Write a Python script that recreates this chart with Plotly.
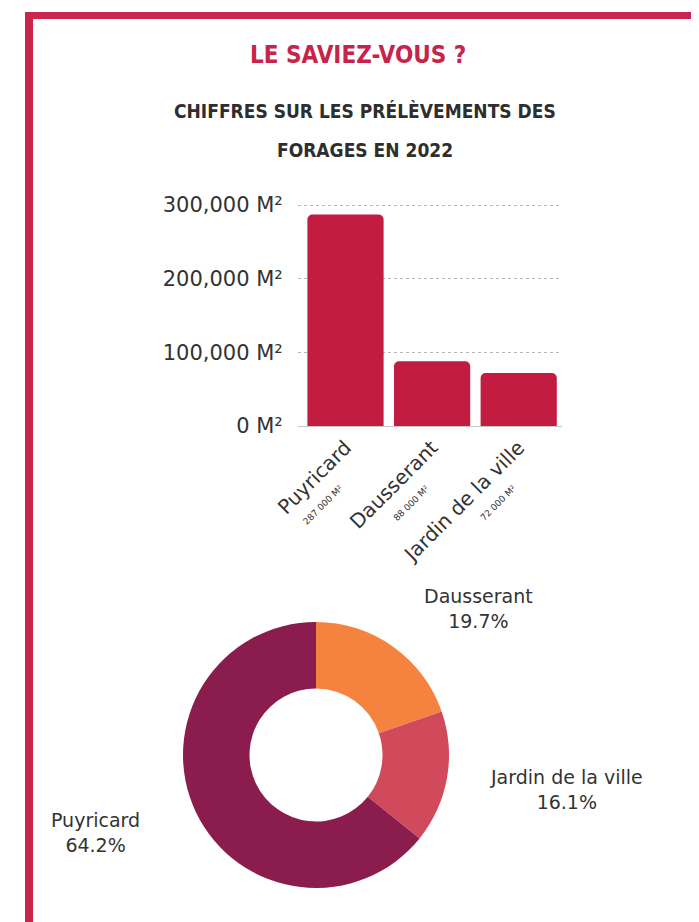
import plotly.graph_objects as go

# ---- data ----
sites = ["Puyricard", "Dausserant", "Jardin de la ville"]
volumes = [287000, 88000, 72000]
volume_labels = ["287 000 M²", "88 000 M²", "72 000 M²"]
y_tick_vals = [0, 100000, 200000, 300000]
y_tick_text = ["0 M²", "100,000 M²", "200,000 M²", "300,000 M²"]

pie_sites = ["Dausserant", "Jardin de la ville", "Puyricard"]
pie_values = [88000, 72000, 287000]
pie_colors = ["#f5833f", "#d14a5c", "#8a1c4e"]

W, H = 699, 922
OFF = 8  # page body margin
def px(x):
    return (x - OFF) / W
def py(y):
    return (H - (y - OFF)) / H

fig = go.Figure()

fig.add_trace(go.Bar(
    x=sites, y=volumes,
    marker=dict(color="#c21d40", cornerradius=5, line=dict(width=0)),
    xaxis="x", yaxis="y", showlegend=False, hoverinfo="skip",
))

fig.add_trace(go.Pie(
    labels=pie_sites, values=pie_values, sort=False, direction="clockwise",
    rotation=0, hole=0.5, textinfo="none", showlegend=False,
    marker=dict(colors=pie_colors, line=dict(width=0)),
    domain=dict(x=[px(316 - 133), px(316 + 133)], y=[py(888), py(622)]),
))

ymax = 304000
fig.update_layout(
    width=W, height=H,
    margin=dict(l=0, r=0, t=0, b=0, autoexpand=False),
    paper_bgcolor="white", plot_bgcolor="white",
    font=dict(family="DejaVu Sans, sans-serif", color="#333333"),
    bargap=0.12,
    xaxis=dict(
        domain=[px(298), px(562)], anchor="y", automargin=False,
        tickmode="array", tickvals=sites, ticktext=sites,
        tickangle=-45, tickfont=dict(size=20, color="#333333", family="DejaVu Sans, sans-serif"),
        ticklabelstandoff=5,
        showgrid=False, showline=False, ticks="", zeroline=False,
    ),
    yaxis=dict(
        domain=[py(426), py(426 - 221 * ymax / 300000)], anchor="x", automargin=False,
        range=[0, ymax],
        tickmode="array", tickvals=y_tick_vals, ticktext=y_tick_text,
        tickfont=dict(size=21, color="#333333", family="DejaVu Sans, sans-serif"),
        showgrid=True, gridcolor="#b8b8b8", griddash="dot", gridwidth=1,
        zeroline=True, zerolinecolor="#c8c8c8", zerolinewidth=1,
        ticks="outside", ticklen=10, tickcolor="rgba(0,0,0,0)",
        showline=False,
    ),
)

# small volume labels under each category name
for s, v in zip(sites, volume_labels):
    fig.add_annotation(text=v, xref="x", yref="paper", x=s, y=py(480),
                       xshift=2, showarrow=False, textangle=-45,
                       xanchor="right", yanchor="top",
                       font=dict(family="DejaVu Sans, sans-serif", size=9, color="#333333"))

# frame (left and top edges)
frame_color = "#c9264d"
fig.add_shape(type="line", xref="paper", yref="paper",
              x0=px(29), x1=px(29), y0=0, y1=py(12),
              line=dict(color=frame_color, width=8), layer="above")
fig.add_shape(type="line", xref="paper", yref="paper",
              x0=px(25), x1=1, y0=py(15.5), y1=py(15.5),
              line=dict(color=frame_color, width=7), layer="above")

title_font = "DejaVu Sans Condensed, DejaVu Sans, sans-serif"
fig.add_annotation(text="<b>LE SAVIEZ-VOUS ?</b>", xref="paper", yref="paper",
                   x=px(358), y=py(55), showarrow=False, xanchor="center", yanchor="middle",
                   font=dict(family=title_font, size=24, color="#c8234a"))
fig.add_annotation(text="<b>CHIFFRES SUR LES PRÉLÈVEMENTS DES</b>", xref="paper", yref="paper",
                   x=px(365), y=py(111), showarrow=False, xanchor="center", yanchor="middle",
                   font=dict(family=title_font, size=19, color="#2e2e2e"))
fig.add_annotation(text="<b>FORAGES EN 2022</b>", xref="paper", yref="paper",
                   x=px(365), y=py(150), showarrow=False, xanchor="center", yanchor="middle",
                   font=dict(family=title_font, size=19, color="#2e2e2e"))

# pie labels
total = sum(pie_values)
label_pos = {"Dausserant": (478, 608), "Jardin de la ville": (566, 789), "Puyricard": (95, 832)}
for name, val in zip(pie_sites, pie_values):
    x, y = label_pos[name]
    fig.add_annotation(text=f"{name}<br>{val / total * 100:.1f}%", xref="paper", yref="paper",
                       x=px(x), y=py(y), showarrow=False, xanchor="center", yanchor="middle",
                       align="center",
                       font=dict(family="DejaVu Sans, sans-serif", size=19, color="#333333"))

fig.write_html("out.html")
